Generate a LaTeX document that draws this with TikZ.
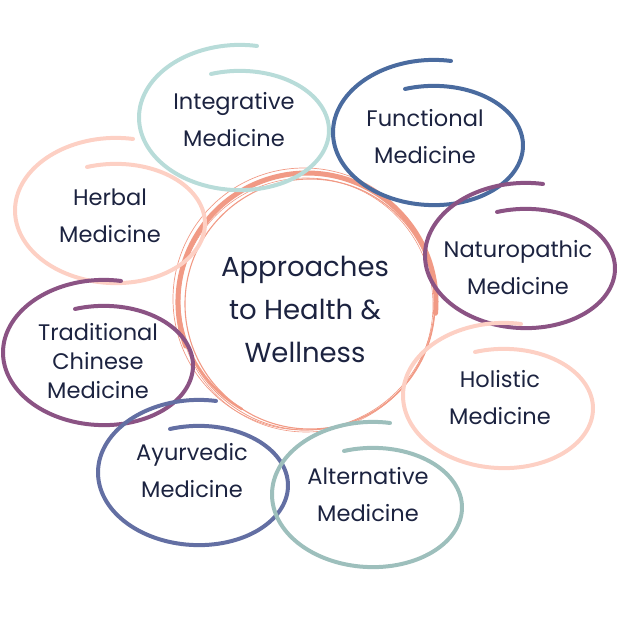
\documentclass[tikz,border=0pt]{standalone}
\usepackage{fontspec}
\setmainfont{Poppins}
\usepackage{tikz}
\usetikzlibrary{positioning}

\definecolor{inkblue}{HTML}{1C2340}
\definecolor{coral}{HTML}{F19A85}
\definecolor{mint}{HTML}{B8DCD9}
\definecolor{denim}{HTML}{4A6B9F}
\definecolor{peach}{HTML}{FDD0C4}
\definecolor{plum}{HTML}{8B5384}
\definecolor{slate}{HTML}{636FA3}
\definecolor{sage}{HTML}{9DBFBC}

\tikzset{
  ring/.style={line width=4, line cap=round},
  core/.style={draw=coral, line cap=round},
  label/.style={text=inkblue, align=center, font=\fontsize{22.5}{37}\selectfont, inner sep=0pt},
  tight/.style={label, font=\fontsize{22.5}{29}\selectfont},
  title/.style={text=inkblue, align=center, font=\fontsize{27.5}{43}\selectfont, inner sep=0pt}
}

% hand-drawn loop: centre x, centre y, colour
\newcommand{\handring}[3]{%
  \draw[ring, #3] plot[domain=104:-284, samples=140, variable=\t]
    ({#1+95*cos(\t)}, {#2-66*sin(\t)-28*(104-\t)/388});
}

\begin{document}
\begin{tikzpicture}[x=1pt, y=-1pt]
\useasboundingbox (0,0) rectangle (620,620);
% centre
\draw[core, line width=0.8] (307,302) circle (128);
\draw[core, line width=0.7] (304,299) circle (131);
\draw[core, line width=1.1] (310,304) circle (125);
\draw[core, line width=0.6] (306,305) circle (127);
\draw[core, line width=5] (307,302) ++(160:129) arc[start angle=160, end angle=365, radius=129];
\draw[core, line width=2.5] (305,300) ++(120:126) arc[start angle=120, end angle=200, radius=126];
\node[title] (core) at (305,309) {Approaches\\to Health \&\\Wellness};
% loops
\handring{234}{138}{mint}
\handring{428}{153}{denim}
\handring{110}{231}{peach}
\handring{520}{276}{plum}
\handring{98}{373}{plum}
\handring{498}{416}{peach}
\handring{193}{493}{slate}
\handring{367}{515}{sage}
% labels
\node[label] (integrative) at (234,120) {Integrative\\Medicine};
\node[label] (functional) at (425,137) {Functional\\Medicine};
\node[label] (herbal) at (110,216) {Herbal\\Medicine};
\node[label] (naturopathic) at (518,268) {Naturopathic\\Medicine};
\node[tight] (tcm) at (98,361) {Traditional\\Chinese\\Medicine};
\node[label] (holistic) at (500,398) {Holistic\\Medicine};
\node[label] (ayurvedic) at (192,471) {Ayurvedic\\Medicine};
\node[label] (alternative) at (368,495) {Alternative\\Medicine};
\end{tikzpicture}
\end{document}
